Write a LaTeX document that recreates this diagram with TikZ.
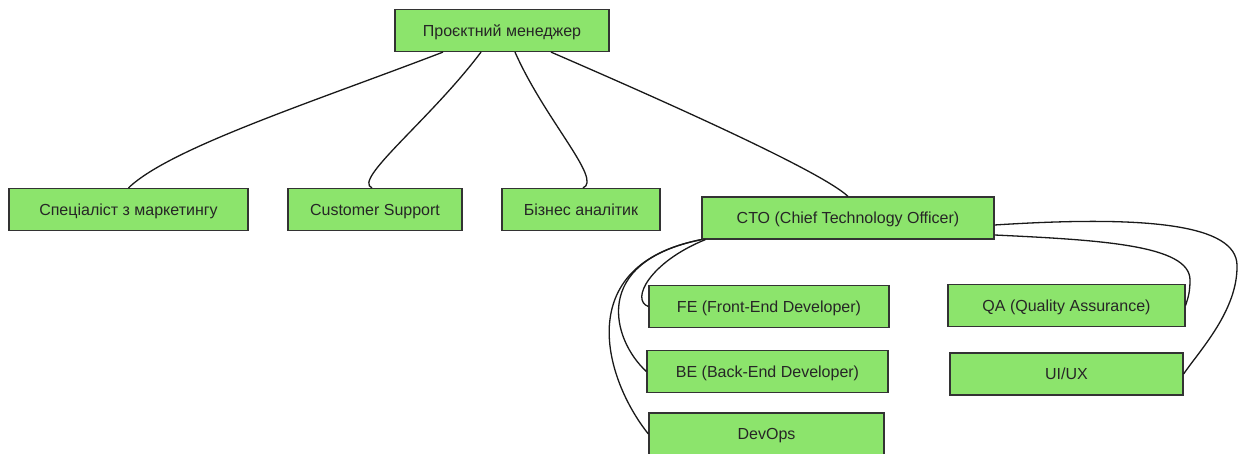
\documentclass[tikz,border=0pt]{standalone}
\usepackage{fontspec}
\setmainfont{Liberation Sans}
\definecolor{rolefill}{HTML}{8CE46C}
\definecolor{roleline}{HTML}{333333}
\begin{document}
\begin{tikzpicture}[x=1pt, y=-1pt,
  role/.style={draw=roleline, line width=1.2pt, fill=rolefill, minimum height=42pt,
    inner sep=0pt, text height=11.5pt, text depth=0pt, text=black!85,
    font=\fontsize{16}{19}\selectfont},
  link/.style={line width=1.3pt, black!90}]
\useasboundingbox (0,0) rectangle (1243,454);
\node[role, minimum width=214pt] (pm) at (502,30.5){Проєктний менеджер};
\node[role, minimum width=239pt] (mkt) at (128.5,209.5){Спеціаліст з маркетингу};
\node[role, minimum width=174pt] (cs) at (375,209.5){Customer Support};
\node[role, minimum width=158pt] (ba) at (581,209.5){Бізнес аналітик};
\node[role, minimum width=292pt] (cto) at (848,218){CTO (Chief Technology Officer)};
\node[role, minimum width=240pt] (fe) at (769,306.5){FE (Front-End Developer)};
\node[role, minimum width=241pt] (be) at (767.5,371.5){BE (Back-End Developer)};
\node[role, minimum width=235pt] (devops) at (766.5,434){DevOps};
\node[role, minimum width=237pt] (qa) at (1066.5,305.5){QA (Quality Assurance)};
\node[role, minimum width=233pt] (ui) at (1066.5,374){UI/UX};
\draw[link] ([xshift=-59pt]pm.south) .. controls (313,102) and (170,148) .. (mkt.north);
\draw[link] ([xshift=-21pt]pm.south) .. controls (430,120) and (352,180) .. ([xshift=-3pt]cs.north);
\draw[link] ([xshift=13pt]pm.south) .. controls (545,120) and (603,180) .. ([xshift=2pt]ba.north);
\draw[link] ([xshift=49pt]pm.south) .. controls (650,95) and (820,170) .. (cto.north);
\draw[link] ([xshift=4pt]cto.south west) .. controls (650,262) and (630,300) .. (fe.west);
\draw[link] (cto.south west) .. controls (590,262) and (612,340) .. (be.west);
\draw[link] (cto.south west) .. controls (570,265) and (605,380) .. (devops.west);
\draw[link] ([yshift=-17pt]cto.east) .. controls (1100,240) and (1190,245) .. (1190,280)
  .. controls (1190,295) and (1187,300) .. (qa.east);
\draw[link] ([yshift=-7pt]cto.east) .. controls (1150,215) and (1236,225) .. (1237,265)
  .. controls (1238,310) and (1200,350) .. (ui.east);
\end{tikzpicture}
\end{document}
